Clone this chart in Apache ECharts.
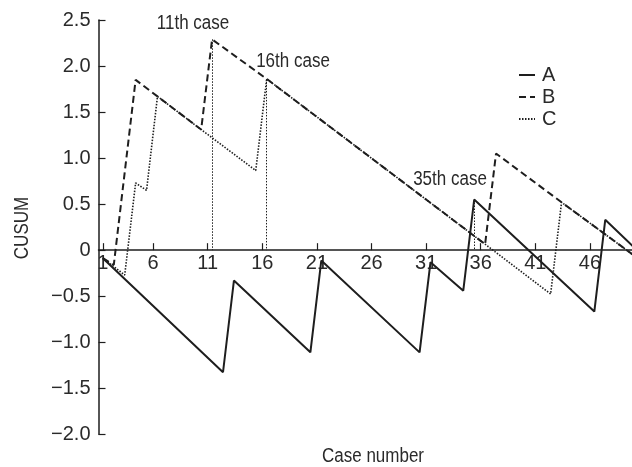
<!DOCTYPE html>
<html><head><meta charset="utf-8">
<script src="https://cdn.jsdelivr.net/npm/echarts@6/dist/echarts.min.js"></script>
<style>html,body{margin:0;padding:0;background:#fff}#c{width:632px;height:467px}</style>
</head><body><div id="c"></div>
<script>
const FONT = '"Liberation Sans", Arial, sans-serif';
const INK = '#1e1e1e';
const TXT = '#2a2a2a';

// CUSUM values read at the vertices of each curve (case number, value)
const caseA  = [1, 12, 13, 20, 21, 30, 31, 34, 35, 46, 47, 50];
const cusumA = [-0.087, -1.326, -0.33, -1.109, -0.113, -1.11, -0.13, -0.44, 0.55, -0.667, 0.33, -0.01];
const caseB  = [1, 2, 4, 10, 11, 16, 36, 37, 43, 50];
const cusumB = [-0.087, -0.16, 1.85, 1.31, 2.29, 1.86, 0.065, 1.05, 0.52, -0.09];
const caseC  = [1, 3, 4, 5, 6, 10, 15, 16, 36, 42, 43, 50];
const cusumC = [-0.087, -0.27, 0.73, 0.65, 1.67, 1.31, 0.865, 1.86, 0.065, -0.476, 0.52, -0.09];

const xTickCases = [1, 6, 11, 16, 21, 26, 31, 36, 41, 46];
const yTicks = [-2.0, -1.5, -1.0, -0.5, 0, 0.5, 1.0, 1.5, 2.0, 2.5];
const marked = [
  {caseNo: 11, series: 'B', text: '11th case'},
  {caseNo: 16, series: 'B', text: '16th case'},
  {caseNo: 35, series: 'A', text: '35th case'}
];

const tickShift = 0.4;
const tickPos = xTickCases.map(c => c === 1 ? c : c - tickShift);
const tickLabel = {};
tickPos.forEach((p, i) => { tickLabel[p.toFixed(2)] = String(xTickCases[i]); });

const pairs = (xs, ys) => xs.map((x, i) => [x, ys[i]]);
const data = {A: pairs(caseA, cusumA), B: pairs(caseB, cusumB), C: pairs(caseC, cusumC)};
const valueAt = (s, c) => data[s].find(p => p[0] === c)[1];

const GRID = {left: 98.5, right: 0, top: 20, bottom: 32.7};
const H = 467 - GRID.top - GRID.bottom;
const yMin = yTicks[0], yMax = yTicks[yTicks.length - 1];
const zeroOffset = -H * (0 - yMin) / (yMax - yMin);

const chart = echarts.init(document.getElementById('c'), null, {renderer: 'canvas'});

const markLines = marked.map(m => [{coord: [m.caseNo, valueAt(m.series, m.caseNo)]}, {coord: [m.caseNo, 0]}]);

const SX = 0.85;
const txt = (text, x, y, extra) => Object.assign({
  type: 'text', x: x, y: y, scaleX: SX, silent: true,
  style: {text: text, font: '20px ' + FONT, fill: TXT, align: 'center', verticalAlign: 'middle'}
}, extra || {});

chart.setOption({
  animation: false,
  backgroundColor: '#fff',
  textStyle: {fontFamily: FONT},
  grid: Object.assign({outerBoundsMode: 'none', containLabel: false}, GRID),
  legend: {
    orient: 'vertical', left: 513, top: 60, itemWidth: 16, itemHeight: 14, itemGap: 2,
    data: ['A', 'B', 'C'],
    itemStyle: {opacity: 0, borderWidth: 0},
    textStyle: {fontFamily: FONT, fontSize: 20, color: TXT, lineHeight: 20, padding: [0, 0, 0, 2]}
  },
  xAxis: {
    type: 'value', min: 0.6, max: 49.45, position: 'bottom', offset: zeroOffset,
    axisLine: {onZero: false, lineStyle: {color: INK, width: 1.5}},
    axisTick: {inside: true, length: 7, customValues: tickPos, lineStyle: {color: INK, width: 1.2}},
    axisLabel: {
      customValues: tickPos, margin: 3, fontFamily: FONT, fontSize: 20, color: TXT,
      formatter: v => tickLabel[Number(v).toFixed(2)] || ''
    },
    splitLine: {show: false}
  },
  yAxis: {
    type: 'value', min: yMin, max: yMax, interval: 0.5,
    axisLine: {show: true, lineStyle: {color: INK, width: 1.5}},
    axisTick: {show: true, inside: true, length: 7, lineStyle: {color: INK, width: 1.2}},
    axisLabel: {
      margin: 8, fontFamily: FONT, fontSize: 20, color: TXT,
      formatter: v => v === 0 ? '0' : (v < 0 ? '\u2212' : '') + Math.abs(v).toFixed(1)
    },
    splitLine: {show: false}
  },
  graphic: [
    txt(marked[0].text, 193, 23),
    txt(marked[1].text, 293, 61),
    txt(marked[2].text, 450, 179),
    txt('Case number', 373, 456),
    txt('CUSUM', 22, 228, {rotation: Math.PI / 2})
  ],
  series: [
    {name: 'A', type: 'line', data: data.A, symbol: 'none', showSymbol: false, clip: true,
     lineStyle: {color: INK, width: 2, type: 'solid'}, itemStyle: {color: INK}, z: 3},
    {name: 'B', type: 'line', data: data.B, symbol: 'none', showSymbol: false, clip: true,
     lineStyle: {color: INK, width: 2, type: [7, 4]}, itemStyle: {color: INK}, z: 2,
     markLine: {silent: true, symbol: 'none', label: {show: false},
       lineStyle: {color: INK, width: 1, type: [1.5, 1.5]},
       data: markLines}},
    {name: 'C', type: 'line', data: data.C, symbol: 'none', showSymbol: false, clip: true,
     lineStyle: {color: INK, width: 1.6, type: [1.5, 1.5]}, itemStyle: {color: INK}, z: 2}
  ]
});
</script></body></html>
